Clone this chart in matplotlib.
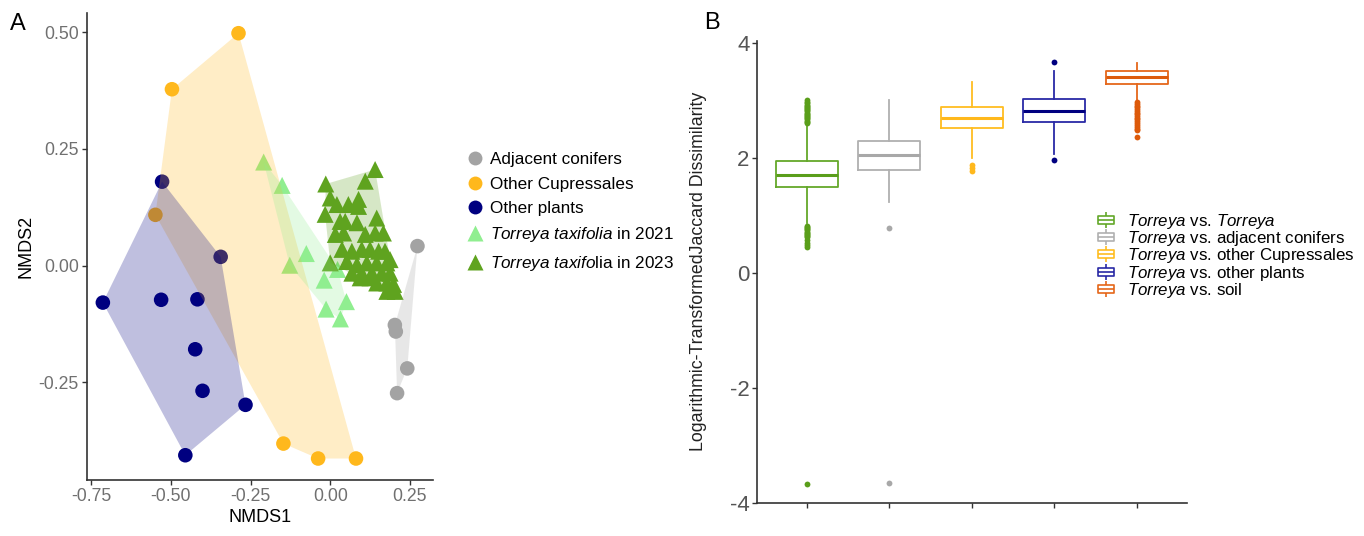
import numpy as np
import matplotlib.pyplot as plt
from matplotlib.path import Path
from matplotlib.lines import Line2D

plt.rcParams['font.family'] = ['Liberation Sans', 'DejaVu Sans']
plt.rcParams['mathtext.fontset'] = 'custom'
plt.rcParams['mathtext.rm'] = 'Liberation Sans'
plt.rcParams['mathtext.it'] = 'Liberation Sans:italic'
plt.rcParams['axes.unicode_minus'] = False

# --- panel A : NMDS ---
adj_x = [0.274, 0.203, 0.206, 0.242, 0.210]
adj_y = [0.042, -0.127, -0.141, -0.220, -0.273]
cup_x = [-0.288, -0.497, -0.549, -0.147, -0.038, 0.081]
cup_y = [0.498, 0.378, 0.109, -0.381, -0.413, -0.413]
oth_x = [-0.528, -0.344, -0.714, -0.531, -0.417, -0.424, -0.401, -0.266, -0.455]
oth_y = [0.180, 0.019, -0.079, -0.073, -0.072, -0.179, -0.268, -0.298, -0.406]
t21_x = [-0.209, -0.151, -0.075, -0.127, 0.023, -0.019, 0.051, -0.013, 0.032]
t21_y = [0.222, 0.172, 0.026, 0.001, -0.008, -0.031, -0.077, -0.093, -0.114]
t23_x = [-0.014, 0.141, 0.110, 0.000, 0.021, 0.057, 0.089, 0.089, -0.016, 0.031,
         0.047, 0.084, 0.146, 0.016, 0.042, 0.110, 0.141, 0.167, 0.037, 0.068,
         0.099, 0.125, 0.152, 0.172, 0.000, 0.052, 0.084, 0.115, 0.146, 0.178,
         0.188, 0.068, 0.099, 0.131, 0.162, 0.188, 0.146, 0.178, 0.199, 0.178,
         0.204, 0.094, 0.125]
t23_y = [0.175, 0.206, 0.181, 0.145, 0.131, 0.131, 0.142, 0.127, 0.110, 0.095,
         0.095, 0.092, 0.102, 0.067, 0.070, 0.067, 0.070, 0.070, 0.035, 0.031,
         0.035, 0.035, 0.031, 0.031, 0.006, 0.009, 0.002, 0.006, 0.006, 0.006,
         0.013, -0.016, -0.016, -0.016, -0.016, -0.016, -0.037, -0.037, -0.040, -0.055,
         -0.055, -0.026, -0.026]

groups = ['Adjacent conifers', 'Other Cupressales', 'Other plants',
          r'$\it{Torreya\ taxifolia}$ in 2021', r'$\it{Torreya\ taxifo}$lia in 2023']
grp_col = ['#A3A3A3', '#FFB81C', '#000080', '#90EE90', '#5FA31F']
grp_mark = ['o', 'o', 'o', '^', '^']

# --- panel B : boxplots ---
comp = ['Torreya', 'adjacent conifers', 'other Cupressales', 'other plants', 'soil']
box_col = ['#64A82A', '#B0B0B0', '#FFBD21', '#2A2AA6', '#E5671A']
flier_col = ['#5A9E1A', '#A8A8A8', '#FFB81C', '#000080', '#DD5A0A']
q1 = [1.49, 1.79, 2.52, 2.62, 3.29]
med = [1.71, 2.06, 2.69, 2.81, 3.41]
q3 = [1.94, 2.29, 2.89, 3.02, 3.51]
wlo = [0.87, 1.23, 2.00, 2.07, 2.99]
whi = [2.59, 3.00, 3.32, 3.52, 3.66]
fl_torreya = [2.61, 2.63, 2.65, 2.67, 2.69, 2.71, 2.73, 2.75, 2.77, 2.79, 2.81, 2.83,
              2.85, 2.87, 2.89, 2.91, 2.93, 2.95, 2.97, 3.00,
              0.46, 0.49, 0.52, 0.58, 0.62, 0.64, 0.66, 0.68, 0.70, 0.72, 0.74,
              0.76, 0.78, 0.80, 0.82, -3.67]
fl_adjacent = [0.78, -3.65]
fl_cupress = [1.78, 1.82, 1.87]
fl_plants = [3.67, 1.96]
fl_soil = [2.37, 2.48, 2.51, 2.54, 2.57, 2.61, 2.64, 2.67, 2.70, 2.73, 2.76, 2.79,
           2.82, 2.85, 2.88, 2.91, 2.94, 2.97]
fliers = [fl_torreya, fl_adjacent, fl_cupress, fl_plants, fl_soil]


def hull(xs, ys):
    pts = sorted(set(zip(xs, ys)))
    if len(pts) < 3:
        return pts

    def cross(o, a, b):
        return (a[0] - o[0]) * (b[1] - o[1]) - (a[1] - o[1]) * (b[0] - o[0])
    lower, upper = [], []
    for p in pts:
        while len(lower) >= 2 and cross(lower[-2], lower[-1], p) <= 0:
            lower.pop()
        lower.append(p)
    for p in reversed(pts):
        while len(upper) >= 2 and cross(upper[-2], upper[-1], p) <= 0:
            upper.pop()
        upper.append(p)
    return lower[:-1] + upper[:-1]


fig = plt.figure(figsize=(13.64, 5.36), dpi=100)
axA = fig.add_axes([0.0635, 0.1045, 0.254, 0.871])
axB = fig.add_axes([0.555, 0.0616, 0.315, 0.8625])

data_x = [adj_x, cup_x, oth_x, t21_x, t23_x]
data_y = [adj_y, cup_y, oth_y, t21_y, t23_y]
for xs, ys, c, m in zip(data_x, data_y, grp_col, grp_mark):
    axA.scatter(xs, ys, s=110 if m == 'o' else 150, c=c, marker=m,
                edgecolors='none', zorder=2)
# convex hulls drawn over the points, like the original
for xs, ys, c in zip(data_x, data_y, grp_col):
    h = hull(xs, ys)
    axA.fill([p[0] for p in h], [p[1] for p in h], color=c, alpha=0.25,
             lw=0, zorder=3)

axA.set_xlim(-0.765, 0.323)
axA.set_ylim(-0.459, 0.541)
axA.set_xticks([-0.75, -0.5, -0.25, 0.0, 0.25])
axA.set_xticklabels(['-0.75', '-0.50', '-0.25', '0.00', '0.25'])
axA.set_yticks([-0.25, 0.0, 0.25, 0.5])
axA.set_yticklabels(['-0.25', '0.00', '0.25', '0.50'])
axA.set_xlabel('NMDS1', fontsize=13, labelpad=3)
axA.set_ylabel('NMDS2', fontsize=13, labelpad=3)

# boxplots from the read statistics
stats = []
for i in range(5):
    stats.append(dict(q1=q1[i], med=med[i], q3=q3[i], whislo=wlo[i],
                      whishi=whi[i], fliers=fliers[i], label=comp[i]))
bp = axB.bxp(stats, positions=[1, 2, 3, 4, 5], widths=0.75, showcaps=False,
             patch_artist=False)
for i in range(5):
    bp['boxes'][i].set(color=box_col[i], lw=1.3)
    bp['medians'][i].set(color=flier_col[i], lw=2.2)
    bp['whiskers'][2 * i].set(color=box_col[i], lw=1.3)
    bp['whiskers'][2 * i + 1].set(color=box_col[i], lw=1.3)
    bp['fliers'][i].set(marker='o', markersize=4.2, markerfacecolor=flier_col[i],
                        markeredgecolor='none', linestyle='none')
axB.set_xlim(0.4, 5.6)
axB.set_ylim(-4.0, 4.04)
axB.set_yticks([-4, -2, 0, 2, 4])
axB.set_xticks([1, 2, 3, 4, 5])
axB.set_xticklabels([])
axB.set_ylabel('Logarithmic-TransformedJaccard Dissimilarity', fontsize=12.8,
               labelpad=16, color='#222222')

for ax, tsize, tcol in [(axA, 12.7, '#707070'), (axB, 16, '#555555')]:
    for side in ['top', 'right']:
        ax.spines[side].set_visible(False)
    for side in ['left', 'bottom']:
        ax.spines[side].set_color('#333333')
        ax.spines[side].set_linewidth(1.2)
    ax.tick_params(length=3.5, width=1, color='#333333', labelsize=tsize,
                   labelcolor=tcol, pad=2)

# legends
hA = [Line2D([], [], ls='none', marker=m, color=c, markersize=10 if m == 'o' else 11,
             markeredgecolor='none') for c, m in zip(grp_col, grp_mark)]
fig.legend(hA, groups, loc='upper left', bbox_to_anchor=(0.342, 0.716),
           frameon=False, fontsize=12.3, handlelength=1.0, handletextpad=0.4,
           labelspacing=0.55, borderpad=0, borderaxespad=0)

glyph = Path([(-1, -0.55), (1, -0.55), (1, 0.55), (-1, 0.55), (-1, -0.55),
              (-1, 0), (1, 0), (0, 0.55), (0, 1), (0, -0.55), (0, -1)],
             [Path.MOVETO, Path.LINETO, Path.LINETO, Path.LINETO, Path.CLOSEPOLY,
              Path.MOVETO, Path.LINETO, Path.MOVETO, Path.LINETO, Path.MOVETO,
              Path.LINETO])
hB = [Line2D([], [], ls='none', marker=glyph, markersize=11, markerfacecolor='none',
             markeredgecolor=c, markeredgewidth=1.2) for c in box_col]
labB = [r'$\it{Torreya}$ vs. $\it{Torreya}$', r'$\it{Torreya}$ vs. adjacent conifers',
        r'$\it{Torreya}$ vs. other Cupressales', r'$\it{Torreya}$ vs. other plants',
        r'$\it{Torreya}$ vs. soil']
fig.legend(hB, labB, loc='upper left', bbox_to_anchor=(0.805, 0.605),
           frameon=False, fontsize=12.2, handlelength=1.0, handletextpad=0.7,
           labelspacing=-0.1, borderpad=0, borderaxespad=0)

fig.text(0.0075, 0.955, 'A', fontsize=17, va='center')
fig.text(0.516, 0.958, 'B', fontsize=17, va='center')

fig.savefig('out.png', dpi=100)
